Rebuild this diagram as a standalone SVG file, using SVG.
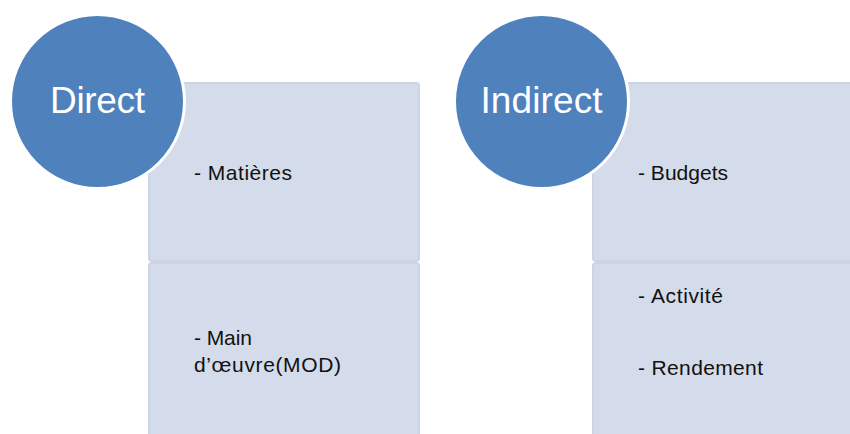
<svg xmlns="http://www.w3.org/2000/svg" width="850" height="434" viewBox="0 0 850 434">
  <style>
    .panel { fill: #d4dbea; stroke: #ccd4e5; stroke-width: 2; }
    .badge { fill: #4f81bd; stroke: #ffffff; stroke-width: 3; }
    .badge-label { font-family: "Liberation Sans", Arial, sans-serif; font-size: 37px; fill: #ffffff; text-anchor: middle; }
    .item { font-family: "Liberation Sans", Arial, sans-serif; font-size: 21px; fill: #111111; }
  </style>
  <rect width="850" height="434" fill="#ffffff"/>

  <!-- Direct costs -->
  <g id="direct-panel-top">
    <rect class="panel" x="149" y="83" width="270" height="178" rx="3"/>
    <text class="item" x="194" y="180" textLength="98">- Matières</text>
  </g>
  <g id="direct-panel-bottom">
    <rect class="panel" x="149" y="263" width="270" height="180" rx="3"/>
    <text class="item" x="194" y="345" textLength="58">- Main</text>
    <text class="item" x="194" y="371.5" textLength="147">d’œuvre(MOD)</text>
  </g>
  <g id="direct">
    <circle class="badge" cx="97.5" cy="101.5" r="87"/>
    <text class="badge-label" x="97.5" y="113" textLength="95">Direct</text>
  </g>

  <!-- Indirect costs -->
  <g id="indirect-panel-top">
    <rect class="panel" x="593" y="83" width="270" height="178" rx="3"/>
    <text class="item" x="638" y="180" textLength="90">- Budgets</text>
  </g>
  <g id="indirect-panel-bottom">
    <rect class="panel" x="593" y="263" width="270" height="180" rx="3"/>
    <text class="item" x="638" y="302.5" textLength="85">- Activité</text>
    <text class="item" x="638" y="375" textLength="125">- Rendement</text>
  </g>
  <g id="indirect">
    <circle class="badge" cx="541.5" cy="101.5" r="87"/>
    <text class="badge-label" x="541.5" y="113" textLength="122">Indirect</text>
  </g>
</svg>
